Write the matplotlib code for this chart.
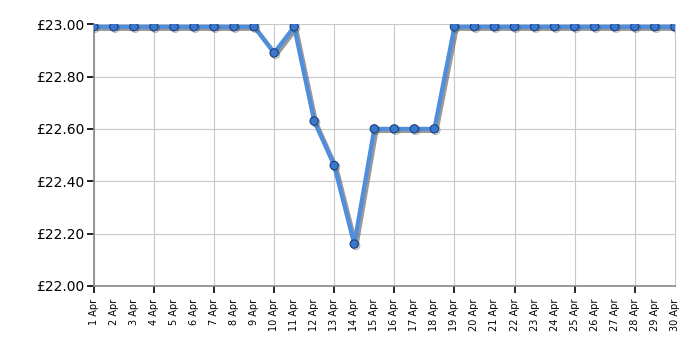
import numpy as np
import matplotlib.pyplot as plt
import matplotlib.patheffects as pe

days = list(range(1, 31))
labels = ['%d Apr' % d for d in days]
prices = [22.99, 22.99, 22.99, 22.99, 22.99, 22.99, 22.99, 22.99, 22.99, 22.89,
          22.99, 22.63, 22.46, 22.16, 22.60, 22.60, 22.60, 22.60, 22.99, 22.99,
          22.99, 22.99, 22.99, 22.99, 22.99, 22.99, 22.99, 22.99, 22.99, 22.99]
yticks = [22.0, 22.2, 22.4, 22.6, 22.8, 23.0]

fig = plt.figure(figsize=(7, 3.5), dpi=100)
ax = fig.add_axes([0.134, 0.183, 0.830, 0.748])

shadow = [pe.SimpleLineShadow(offset=(1.5, -1.5), shadow_color='#555555', alpha=0.6), pe.Normal()]
ax.plot(days, prices, color='#4f8ddd', linewidth=3, zorder=3, path_effects=shadow)
ax.plot(days, prices, linestyle='none', marker='o', markersize=6,
        markerfacecolor='#3a78d0', markeredgecolor='#1c3f78', markeredgewidth=0.8, zorder=4,
        path_effects=[pe.SimpleLineShadow(offset=(1, -1), shadow_color='#444444', alpha=0.4), pe.Normal()])

ax.set_xlim(1, 30)
ax.set_ylim(22.0, 23.0)

ax.set_yticks(yticks)
ax.set_yticklabels(['£%.2f' % v for v in yticks], fontsize=10)
ax.tick_params(axis='y', direction='out', length=5, width=1.2, color='black', pad=2)

# ticks + grid every 3 days, labels every day
ax.xaxis.remove_overlapping_locs = False
ax.set_xticks(days[::3])
ax.set_xticklabels([])
ax.tick_params(axis='x', which='major', direction='out', length=5, width=1.2, color='black')
ax.set_xticks(days, minor=True)
ax.set_xticklabels(labels, minor=True, rotation=90, fontsize=7)
ax.tick_params(axis='x', which='minor', length=0, pad=9)

ax.grid(True, axis='both', which='major', color='#c8c8c8', linewidth=0.8)
ax.set_axisbelow(True)

ax.spines['top'].set_visible(False)
ax.spines['right'].set_color('#c8c8c8')
ax.spines['left'].set_color('#888888')
ax.spines['bottom'].set_color('#888888')
ax.spines['left'].set_linewidth(1.2)
ax.spines['bottom'].set_linewidth(1.2)

fig.savefig('out.png', dpi=100)
